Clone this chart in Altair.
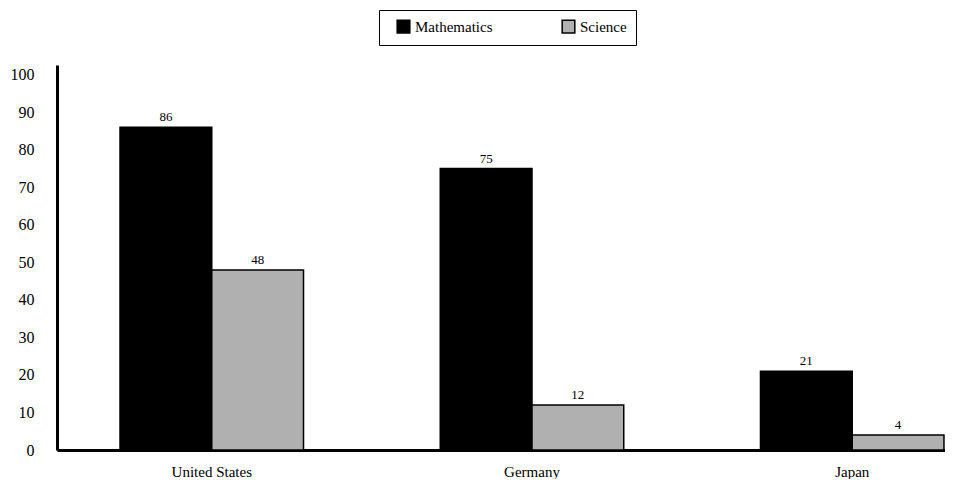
import altair as alt
import pandas as pd

countries = ["United States", "Germany", "Japan"]
subjects = ["Mathematics", "Science"]
math_vals = [86, 75, 21]
sci_vals = [48, 12, 4]

rows = []
for c, m, s in zip(countries, math_vals, sci_vals):
    rows.append({"Country": c, "Subject": "Mathematics", "Value": m})
    rows.append({"Country": c, "Subject": "Science", "Value": s})
df = pd.DataFrame(rows)

FONT = "Liberation Serif"

x = alt.X("Country:N", sort=countries, title=None,
          scale=alt.Scale(paddingInner=0.427, paddingOuter=0.1, align=0.984),
          axis=alt.Axis(labelAngle=0, ticks=False, labelPadding=14, labelFontSize=15,
                        labelFont=FONT, labelColor="black", domainColor="black",
                        domainWidth=3))
xo = alt.XOffset("Subject:N", sort=subjects,
                 scale=alt.Scale(paddingInner=0, paddingOuter=0))
y = alt.Y("Value:Q", title=None,
          scale=alt.Scale(domain=[0, 102.6], nice=False),
          axis=alt.Axis(values=list(range(0, 101, 10)), grid=False, ticks=False,
                        labelPadding=23, labelFontSize=16, labelFont=FONT,
                        labelColor="black", domainColor="black", domainWidth=3))

base = alt.Chart(df)

bars = base.mark_bar(stroke="black", strokeWidth=1.5).encode(
    x=x, xOffset=xo, y=y,
    color=alt.Color("Subject:N", sort=subjects,
                    scale=alt.Scale(domain=subjects, range=["#000000", "#b0b0b0"]),
                    legend=alt.Legend(title=None, orient="none", legendX=322, legendY=-55,
                                      direction="horizontal", symbolType="square",
                                      symbolSize=160, symbolStrokeColor="black",
                                      symbolStrokeWidth=1.5, labelFont=FONT,
                                      labelFontSize=15, labelColor="black",
                                      columnPadding=60, padding=9, symbolOffset=8,
                                      strokeColor="black", labelOffset=4)),
)

labels = base.mark_text(baseline="bottom", dy=-3, font=FONT, fontSize=13,
                        color="black").encode(
    x=x, xOffset=xo, y=y, text="Value:Q"
)

chart = (bars + labels).properties(
    width=888, height=385,
    autosize=alt.AutoSizeParams(type="none"),
    padding={"left": 49, "top": 57, "right": 0, "bottom": 29},
).configure_view(stroke=None)

chart.save("out.html", embed_options={"renderer": "svg", "actions": False})
